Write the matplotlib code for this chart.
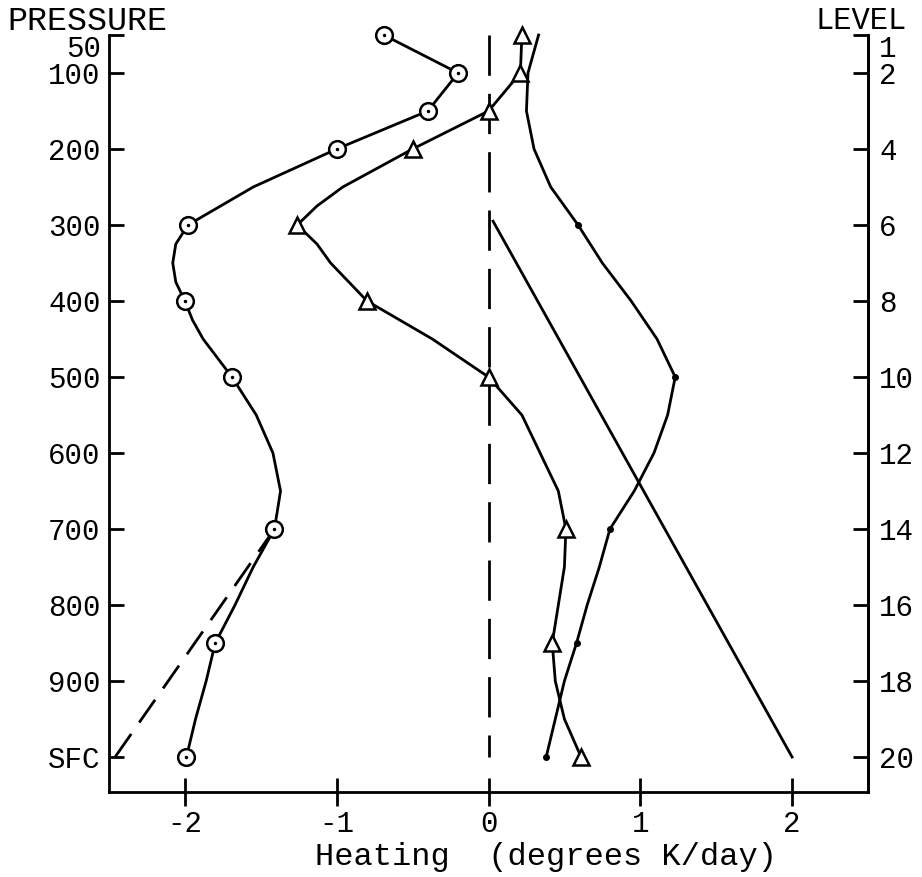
import matplotlib.pyplot as plt

# curves: pressure (hPa) and heating (K/day)
circ_p = [50, 100, 150, 200, 250, 300, 325, 350, 375, 400, 425, 450, 500,
          550, 600, 650, 700, 750, 800, 850, 900, 950, 1000]
circ_c = [-0.69, -0.20, -0.40, -1.00, -1.55, -1.98, -2.06, -2.08, -2.06, -2.00,
          -1.95, -1.88, -1.69, -1.53, -1.42, -1.37, -1.41, -1.55, -1.67, -1.80,
          -1.86, -1.93, -1.99]
tri_p = [50, 100, 150, 200, 250, 275, 300, 325, 350, 400, 450, 500, 550,
         600, 650, 700, 750, 800, 850, 900, 950, 1000]
tri_c = [0.22, 0.21, 0.00, -0.50, -0.96, -1.13, -1.26, -1.13, -1.04, -0.80,
         -0.37, 0.00, 0.22, 0.34, 0.46, 0.51, 0.50, 0.46, 0.42, 0.44, 0.50, 0.61]
dot_p = [50, 100, 150, 200, 250, 300, 350, 400, 450, 500, 550, 600, 650,
         700, 750, 800, 850, 900, 950, 1000]
dot_c = [0.33, 0.26, 0.25, 0.30, 0.41, 0.59, 0.75, 0.94, 1.11, 1.23,
         1.18, 1.09, 0.96, 0.80, 0.73, 0.65, 0.58, 0.50, 0.44, 0.38]

# marked points
circ_mp = [50, 100, 150, 200, 300, 400, 500, 700, 850, 1000]
circ_mx = [-0.69, -0.20, -0.40, -1.00, -1.98, -2.00, -1.69, -1.41, -1.80, -1.99]
tri_mp = [50, 100, 150, 200, 300, 400, 500, 700, 850, 1000]
tri_mx = [0.22, 0.21, 0.00, -0.50, -1.26, -0.80, 0.00, 0.51, 0.42, 0.61]
dot_mp = [300, 500, 700, 850, 1000]
dot_mx = [0.59, 1.23, 0.80, 0.58, 0.38]

# dashed extrapolation and straight reference line
dash_p = [700, 1000]
dash_x = [-1.41, -2.46]
ref_p = [295, 1000]
ref_x = [0.03, 2.0]

p_ticks = [50, 100, 200, 300, 400, 500, 600, 700, 800, 900, 1000]
p_labels = ['50', '100', '200', '300', '400', '500', '600', '700', '800', '900', 'SFC']
levels = ['1', '2', '4', '6', '8', '10', '12', '14', '16', '18', '20']
x_ticks = [-2, -1, 0, 1, 2]
x_labels = ['-2', '-1', '0', '1', '2']

plt.rcParams['font.family'] = ['Liberation Mono', 'DejaVu Sans Mono']

fig = plt.figure(figsize=(9.22, 8.77), dpi=100)
ax = fig.add_axes([109/922, 1-792/877, 759/922, 757/877])

lw = 2.0
k = dict(color='black', lw=lw, clip_on=False)
ax.plot([0, 0], [50, 1000], dashes=(14.5, 6.5), **k)
ax.plot(dash_x, dash_p, dashes=(10, 5), **k)
ax.plot(ref_x, ref_p, **k)
ax.plot(circ_c, circ_p, **k)
ax.plot(tri_c, tri_p, **k)
ax.plot(dot_c, dot_p, **k)
ax.plot(circ_mx, circ_mp, 'o', ms=12, mfc='white', mec='black', mew=1.8, clip_on=False)
ax.plot(circ_mx, circ_mp, '.', ms=3, color='black', clip_on=False)
ax.plot(tri_mx, tri_mp, '^', ms=11, mfc='white', mec='black', mew=1.8, clip_on=False)
ax.plot(dot_mx, dot_mp, 'o', ms=4, color='black', clip_on=False)

ax.set_xlim(-2.5, 2.5)
ax.set_ylim(1046, 50)
ax.spines['top'].set_visible(False)
for s in ['left', 'right', 'bottom']:
    ax.spines[s].set_linewidth(lw)

ax.set_yticks(p_ticks)
ax.set_yticklabels(p_labels)
ax.tick_params(axis='y', direction='in', length=11, width=lw, labelsize=21, pad=6)
ax.get_yticklabels()[0].set_va('top')
ax.set_xticks(x_ticks)
ax.set_xticklabels(x_labels)
ax.tick_params(axis='x', direction='inout', length=20, width=lw, labelsize=21, pad=3)

ax2 = ax.twinx()
ax2.set_ylim(1046, 50)
ax2.spines['top'].set_visible(False)
ax2.spines['right'].set_linewidth(lw)
ax2.set_yticks(p_ticks)
ax2.set_yticklabels(levels)
ax2.tick_params(axis='y', direction='in', length=11, width=lw, labelsize=21, pad=8)
ax2.get_yticklabels()[0].set_va('top')

fig.text(7/922, 1-21/877, 'PRESSURE', fontsize=24, ha='left', va='center')
fig.text(907/922, 1-21/877, 'LEVEL', fontsize=22, ha='right', va='center')
fig.text(546/922, 1-857/877, 'Heating  (degrees K/day)', fontsize=23,
         ha='center', va='center')

fig.savefig('out.png', dpi=100)
